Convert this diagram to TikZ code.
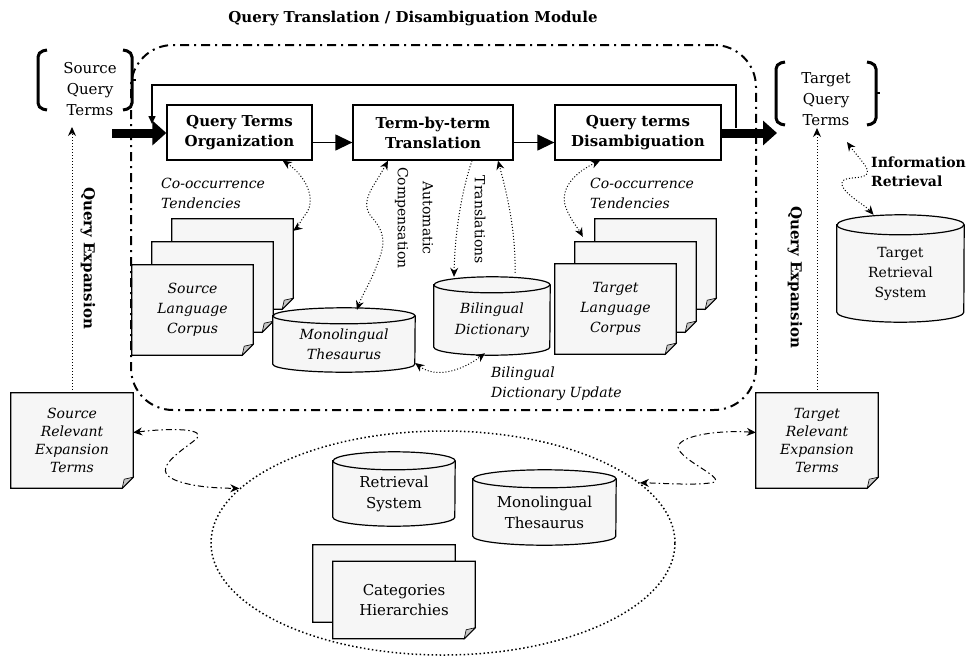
\documentclass[tikz,border=0pt]{standalone}
\usepackage{fontspec}
\setmainfont{DejaVu Serif}
\usetikzlibrary{arrows.meta,shapes.geometric,calc}
\pgfdeclarelayer{bg}
\pgfsetlayers{bg,main}
\newcommand\fs[2]{\fontsize{#1}{#2}\selectfont}
\newcommand\docshp[1]{%
 \begin{pgfonlayer}{bg}
 \draw[docline] (#1.north west) -- (#1.north east) -- ([yshift=11pt]#1.south east) -- ([xshift=-11pt]#1.south east) -- (#1.south west) -- cycle;
 \draw[foldst] ([yshift=11pt]#1.south east) -- ([xshift=-11pt]#1.south east) -- ([xshift=-9pt,yshift=9pt]#1.south east) -- cycle;
 \end{pgfonlayer}}
% cylinder: node spans from the centre line of the top ellipse to the bottom
\newcommand\cylshp[3]{%
 \begin{pgfonlayer}{bg}
 \draw[docline] (#1.north west) -- ([yshift=#3]#1.south west) arc[start angle=180,end angle=360,x radius=#2,y radius=#3] -- (#1.north east) arc[start angle=0,end angle=180,x radius=#2,y radius=#3] -- cycle;
 \draw[docline,fill=none] (#1.north west) arc[start angle=180,end angle=360,x radius=#2,y radius=#3];
 \end{pgfonlayer}}
\tikzset{
 >={Stealth[length=9pt,width=8pt]},
 docline/.style={draw, fill=gray!7, line width=1.2pt},
 foldst/.style={draw, fill=gray!45, line width=0.6pt},
 procbox/.style={draw, fill=white, line width=1.3pt, minimum height=55pt, inner sep=0pt, align=center, font=\bfseries\fs{15}{20}},
 qterms/.style={align=center, inner sep=0pt, font=\fs{15}{21}},
 brk/.style={line width=3pt, rounded corners=5pt},
 frame/.style={draw, line width=2pt, rounded corners=42pt, dash pattern=on 9pt off 5pt on 2pt off 5pt},
 thickarr/.style={line width=9pt, -{Triangle[length=14pt,width=24pt]}},
 boxarr/.style={line width=1.3pt, -{Triangle[length=17pt,width=16pt]}},
 fbline/.style={line width=1.5pt, -{Triangle[length=8pt,width=7pt]}},
 lbl/.style={align=left, inner sep=0pt, font=\itshape\fs{14}{20}},
 docnode/.style={inner sep=0pt, align=center, font=\itshape\fs{14}{20}},
 expnode/.style={inner sep=0pt, align=center, minimum width=122pt, minimum height=95pt, font=\itshape\fs{14}{18}},
 cylnode/.style={inner sep=0pt, align=center},
 dotc/.style={line width=1pt, dash pattern=on 1pt off 2pt},
 dashc/.style={line width=1pt, dash pattern=on 6pt off 3pt on 1.5pt off 3pt},
 rotl/.style={rotate=-90, inner sep=0pt},
}
\begin{document}
\begin{tikzpicture}[x=1pt,y=-1pt]
\path[use as bounding box] (0,0) rectangle (975,659);

% title and module frame
\node[font=\bfseries\fs{15}{17}] (title) at (413,18) {Query Translation / Disambiguation Module};
\node[frame, minimum width=625pt, minimum height=365pt] (module) at (443.5,227.5) {};

% big dotted ellipse
\node[draw, ellipse, line width=1.5pt, dash pattern=on 1.5pt off 2.5pt, minimum width=464pt, minimum height=224pt] (pool) at (443,543) {};

% processing boxes
\node[procbox, minimum width=145pt] (qto) at (239.5,132.5) {Query Terms\\Organization};
\node[procbox, minimum width=160pt] (tbt) at (433,132.5) {Term-by-term\\Translation};
\node[procbox, minimum width=166pt] (qtd) at (638,132.5) {Query terms\\Disambiguation};

% query terms with brackets
\node[qterms] (sqt) at (90,89) {Source\\Query\\Terms};
\draw[brk] (47,50) -- (38,52) -- (38,108) -- (47,110);
\draw[brk] (123,50) -- (132,52) -- (132,108) -- (123,110);
\draw[line width=2.5pt] (132,80) -- (136,80);
\node[qterms] (tqt) at (826,99) {Target\\Query\\Terms};
\draw[brk] (785,62) -- (776,64) -- (776,123) -- (785,125);
\draw[brk] (867,62) -- (876,64) -- (876,123) -- (867,125);
\draw[line width=2.5pt] (876,93) -- (880,93);

% thick arrows
\coordinate (inS) at (112,133);
\coordinate (outT) at (777,133);
\draw[thickarr] (inS) -- (qto.west |- inS);
\draw[thickarr] (qtd.east |- outT) -- (outT);

% arrows between boxes
\draw[boxarr] ([yshift=-10pt]qto.east) -- ([yshift=-10pt]tbt.west);
\draw[boxarr] ([yshift=-10pt]tbt.east) -- ([yshift=-10pt]qtd.west);

% feedback loop
\coordinate (fbS) at (736,128);
\coordinate (fbE) at (152,124);
\draw[fbline] (fbS) -- ++(0,-43) -| (fbE);

% labels
\node[lbl, anchor=west] (coL) at (161,193) {Co-occurrence\\Tendencies};
\node[lbl, anchor=west] (coR) at (590,193) {Co-occurrence\\Tendencies};
\node[lbl, anchor=west] (bdu) at (491,384) {Bilingual\\Dictionary Update};
\node[rotl, font=\bfseries\fs{15}{18}] (qeL) at (88,258) {Query Expansion};
\node[rotl, font=\bfseries\fs{15}{18}] (qeR) at (795,277) {Query Expansion};
\node[rotl, align=center, font=\fs{14}{25}] (acomp) at (414,218) {Automatic\\Compensation};
\node[rotl, font=\fs{14}{18}] (transl) at (480,220) {Translations};
\node[anchor=west, align=left, inner sep=0pt, font=\bfseries\fs{14}{19}] (ir) at (871,172) {Information\\Retrieval};

% source language corpus
\node[docnode, minimum width=121pt, minimum height=90pt] (slc3) at (232.5,264) {};
\node[docnode, minimum width=121pt, minimum height=90pt] (slc2) at (212.5,287) {};
\node[docnode, minimum width=121pt, minimum height=90pt] (slc) at (192.5,310) {Source\\Language\\Corpus};
\docshp{slc3}\docshp{slc2}\docshp{slc}

% target language corpus
\node[docnode, minimum width=121pt, minimum height=90pt] (tlc3) at (655.5,264) {};
\node[docnode, minimum width=121pt, minimum height=90pt] (tlc2) at (635.5,287) {};
\node[docnode, minimum width=121pt, minimum height=90pt] (tlc) at (615.5,309) {Target\\Language\\Corpus};
\docshp{tlc3}\docshp{tlc2}\docshp{tlc}

% cylinders
\node[cylnode, minimum width=142pt, minimum height=56pt, font=\itshape\fs{14}{20}] (mt) at (344,344) {Monolingual\\Thesaurus};
\cylshp{mt}{71pt}{8pt}
\node[cylnode, minimum width=116pt, minimum height=70pt, font=\itshape\fs{14}{21}] (bd) at (492,320) {Bilingual\\Dictionary};
\cylshp{bd}{58pt}{8pt}
\node[cylnode, minimum width=127pt, minimum height=97pt, font=\fs{14}{20}] (trs) at (900.5,273.5) {Target\\Retrieval\\System};
\cylshp{trs}{63.5pt}{10pt}
\node[cylnode, minimum width=122pt, minimum height=65pt, font=\fs{15}{21}] (rs) at (394,493.5) {Retrieval\\System};
\cylshp{rs}{61pt}{9pt}
\node[cylnode, minimum width=143pt, minimum height=66pt, font=\fs{15}{21}] (mt2) at (544.5,512) {Monolingual\\Thesaurus};
\cylshp{mt2}{71.5pt}{9pt}

% categories hierarchies
\node[docnode, minimum width=142pt, minimum height=77pt] (ch2) at (384,583.5) {};
\node[docnode, minimum width=142pt, minimum height=77pt, font=\fs{15}{20}] (ch) at (404,600) {Categories\\Hierarchies};
\docshp{ch2}\docshp{ch}

% expansion term documents
\node[expnode] (sret) at (72,440.5) {Source\\Relevant\\Expansion\\Terms};
\docshp{sret}
\node[expnode] (tret) at (817,440.5) {Target\\Relevant\\Expansion\\Terms};
\docshp{tret}

% query expansion arrows
\coordinate (qeLtop) at (72,127);
\coordinate (qeRtop) at (817,128);
\draw[dotc,->] (sret.north) -- (qeLtop);
\draw[dotc,->] (tret.north) -- (qeRtop);

% dotted connectors inside module
\draw[dotc,<->] ([xshift=-30pt]qto.south east) .. controls (305,175) and (318,200) .. (305,215) .. controls (300,222) and (297,228) .. ([yshift=-12pt]slc3.north east);
\draw[dotc,<->] ([xshift=-45pt]tbt.south) .. controls (375,185) and (360,200) .. (370,215) .. controls (385,232) and (386,242) .. (378,262) .. controls (372,280) and (362,295) .. ([xshift=13pt,yshift=6pt]mt.north);
\draw[dotc,->] ([xshift=39pt]tbt.south) .. controls (462,190) and (455,230) .. ([xshift=-38pt,yshift=8pt]bd.north);
\draw[dotc,->] ([xshift=23pt,yshift=12pt]bd.north) .. controls (516,230) and (506,190) .. ([xshift=65pt]tbt.south);
\draw[dotc,<->] ([yshift=-19pt]mt.east) .. controls (435,378) and (460,372) .. ([xshift=-7pt,yshift=2pt]bd.south);
\draw[dotc,<->] ([xshift=-38pt]qtd.south) .. controls (580,170) and (560,185) .. (565,205) .. controls (570,220) and (578,228) .. ([xshift=8pt,yshift=5pt]tlc2.north west);

% information retrieval
\coordinate (irTop) at (847,142);
\draw[dotc,<->] (irTop) .. controls (860,160) and (872,170) .. (866,175) .. controls (860,180) and (840,175) .. (842,185) .. controls (845,195) and (865,205) .. ([xshift=-27pt,yshift=10pt]trs.north);

% dash-dot links to resource pool
\draw[dashc,<->] ([yshift=8pt]sret.east) .. controls (170,428) and (210,428) .. (195,440) .. controls (180,452) and (150,470) .. (175,480) .. controls (190,486) and (210,488) .. (pool.165);
\draw[dashc,<->] ([yshift=8pt]tret.west) .. controls (720,430) and (680,435) .. (678,447) .. controls (680,460) and (722,476) .. (715,482) .. controls (700,486) and (660,483) .. (pool.17);
\end{tikzpicture}
\end{document}
